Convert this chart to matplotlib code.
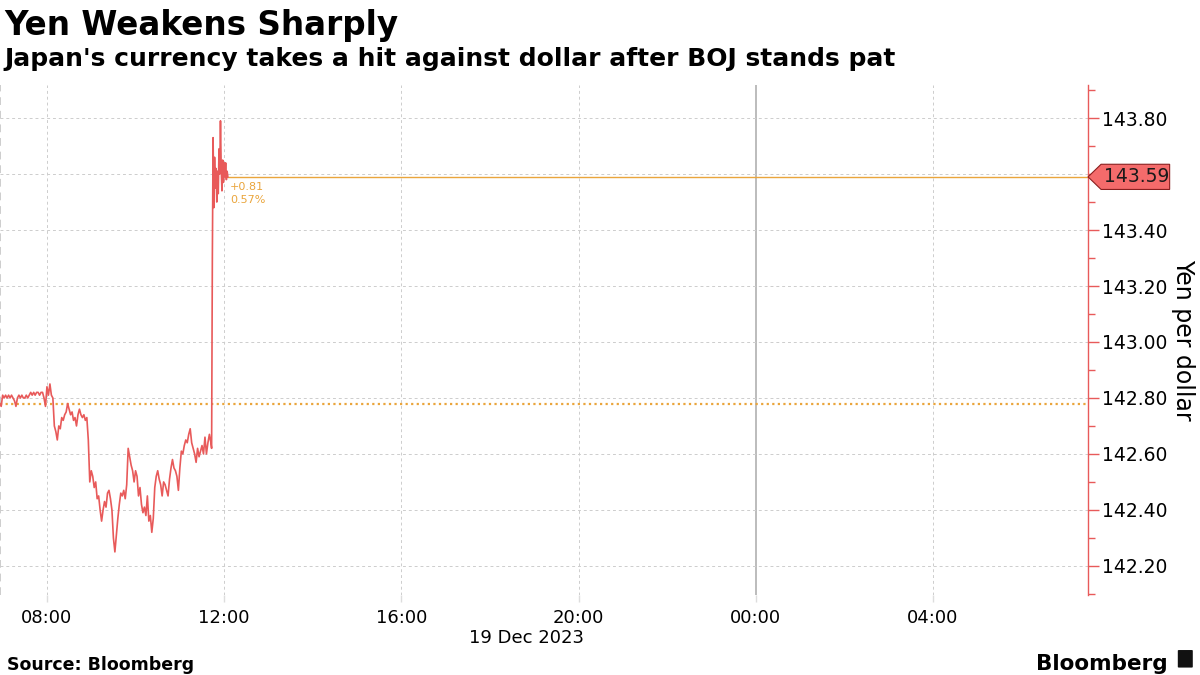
## Yen per dollar, 19 Dec 2023 (Bloomberg style chart)
import numpy as np
import matplotlib
matplotlib.use('Agg')
import matplotlib.pyplot as plt
from matplotlib.patches import Polygon, FancyBboxPatch

## data
# session before the BOJ decision, one quote every 2 minutes from 06:56
pre_start = 6 * 60 + 56
pre_values = [
    142.78, 142.77, 142.81, 142.80, 142.81, 142.80, 142.81, 142.80, 142.81, 142.80,
    142.79, 142.77, 142.80, 142.81, 142.80, 142.81, 142.80, 142.80, 142.81, 142.80,
    142.81, 142.82, 142.81, 142.82, 142.81, 142.82, 142.82, 142.81, 142.82, 142.82,
    142.80, 142.77, 142.84, 142.81, 142.85, 142.81, 142.80, 142.70, 142.68, 142.65,
    142.70, 142.69, 142.73, 142.72, 142.74, 142.75, 142.78, 142.76, 142.74, 142.75,
    142.72, 142.73, 142.70, 142.74, 142.76, 142.74, 142.73, 142.74, 142.72, 142.73,
    142.65, 142.50, 142.54, 142.52, 142.48, 142.50, 142.44, 142.45, 142.40, 142.36,
    142.40, 142.43, 142.41, 142.46, 142.47, 142.44, 142.40, 142.30, 142.25, 142.31,
    142.37, 142.42, 142.46, 142.45, 142.47, 142.44, 142.49, 142.62, 142.59, 142.56,
    142.54, 142.50, 142.54, 142.52, 142.45, 142.48, 142.42, 142.39, 142.41, 142.38,
    142.45, 142.36, 142.38, 142.32, 142.37, 142.48, 142.52, 142.54, 142.51, 142.49,
    142.45, 142.50, 142.49, 142.47, 142.45, 142.51, 142.55, 142.58, 142.55, 142.54,
    142.52, 142.47, 142.55, 142.61, 142.60, 142.63, 142.65, 142.64, 142.67, 142.69,
    142.64, 142.62, 142.60, 142.57, 142.62, 142.59, 142.61, 142.63, 142.60, 142.66,
    142.60, 142.64, 142.67, 142.64,
]
# after the decision, one quote every minute from 11:43
post_start = 11 * 60 + 43
post_values = [
    142.62, 143.30, 143.73, 143.48, 143.66, 143.55, 143.62, 143.50, 143.61, 143.53,
    143.69, 143.60, 143.79, 143.62, 143.54, 143.65, 143.57, 143.64, 143.59, 143.64,
    143.58, 143.61, 143.59,
]
prev_close = 142.78

tick_hours = [8, 12, 16, 20, 24, 28]
tick_labels = ['08:00', '12:00', '16:00', '20:00', '00:00', '04:00']
y_ticks = [142.2, 142.4, 142.6, 142.8, 143.0, 143.2, 143.4, 143.6, 143.8]

pre_times = (pre_start + 2 * np.arange(len(pre_values))) / 60
post_times = (post_start + np.arange(len(post_values))) / 60
times = np.concatenate([pre_times, post_times])
values = np.array(pre_values + post_values)

last = values[-1]
change = last - prev_close
pct = change / prev_close * 100

## colours
red = '#e85a5a'
orange = '#eaa53c'
grid = '#cdcdcd'

fig = plt.figure(figsize=(12, 6.75), dpi=100)
ax = fig.add_axes([0, 0.1185, 0.9067, 0.7555])

ax.plot(times, values, color=red, lw=1.2, zorder=3)

x0, x1 = 6.94, 31.5
ax.set_xlim(x0, x1)
ax.set_ylim(142.096, 143.918)

# grid
for h in tick_hours:
    if h == 24:
        ax.axvline(h, color='#b0b0b0', lw=1.2, zorder=1)
    else:
        ax.axvline(h, color=grid, lw=0.7, ls=(0, (3, 3)), zorder=1)
ax.axvline(x0 + 0.01, color=grid, lw=1.4, ls=(0, (4, 3)), zorder=1)
for y in y_ticks:
    ax.axhline(y, color=grid, lw=0.7, ls=(0, (3, 3)), zorder=1)

# previous close and last price
ax.axhline(prev_close, color=orange, lw=1.6, ls=(0, (1, 1.5)), zorder=2)
ax.plot([times[-1], x1], [last, last], color=orange, lw=1.0, zorder=2)
ax.text(times[-1] + 0.05, last - 0.02, f'+{change:.2f}\n{pct:.2f}%', color=orange,
        fontsize=8, va='top', ha='left', linespacing=1.3)

# axes
for s in ['top', 'left', 'bottom']:
    ax.spines[s].set_visible(False)
ax.spines['right'].set_color(red)
ax.spines['right'].set_linewidth(1.0)
ax.yaxis.tick_right()
ax.set_yticks(y_ticks)
# the label under the last-price tag is hidden
ax.set_yticklabels(['' if abs(v - last) < 0.05 else f'{v:.2f}' for v in y_ticks])
ax.set_yticks(np.arange(142.1, 143.95, 0.2), minor=True)
ax.tick_params(axis='y', which='major', colors=red, length=8, width=1, labelcolor='black',
               labelsize=13.5, pad=2)
ax.tick_params(axis='y', which='minor', colors=red, length=5, width=1)
fig.text(0.986, 0.497, 'Yen per dollar', rotation=-90, fontsize=17,
         ha='center', va='center')

ax.set_xticks(tick_hours)
ax.set_xticklabels(tick_labels, fontsize=13)
ax.tick_params(axis='x', colors='#dddddd', length=5, width=1, labelcolor='black', pad=5)

# last price tag
trans = ax.get_yaxis_transform()
tag = Polygon([(1.0, last), (1.012, last + 0.045), (1.075, last + 0.045),
               (1.075, last - 0.045), (1.012, last - 0.045)], closed=True,
              transform=trans, facecolor='#f46b6b', edgecolor='#8a1f1f', lw=0.8,
              clip_on=False, zorder=5)
ax.add_patch(tag)
ax.text(1.045, last, f'{last:.2f}', transform=trans, ha='center', va='center',
        fontsize=13.5, color='#1a1a1a', zorder=6)

# titles and footer
fig.text(0.004, 0.987, 'Yen Weakens Sharply', fontsize=23.5, weight='bold', va='top')
fig.text(0.004, 0.93, "Japan's currency takes a hit against dollar after BOJ stands pat",
         fontsize=18, weight='bold', va='top')
fig.text(0.439, 0.047, '19 Dec 2023', fontsize=13, ha='center')
fig.text(0.006, 0.008, 'Source: Bloomberg', fontsize=12.5, weight='bold')
fig.text(0.973, 0.008, 'Bloomberg', fontsize=15.5, weight='bold', ha='right')
logo = FancyBboxPatch((0.9825, 0.012), 0.0105, 0.024, boxstyle='round,pad=0.001',
                      transform=fig.transFigure, facecolor='#111111', edgecolor='none')
fig.patches.append(logo)

plt.savefig('out.png', dpi=100)
